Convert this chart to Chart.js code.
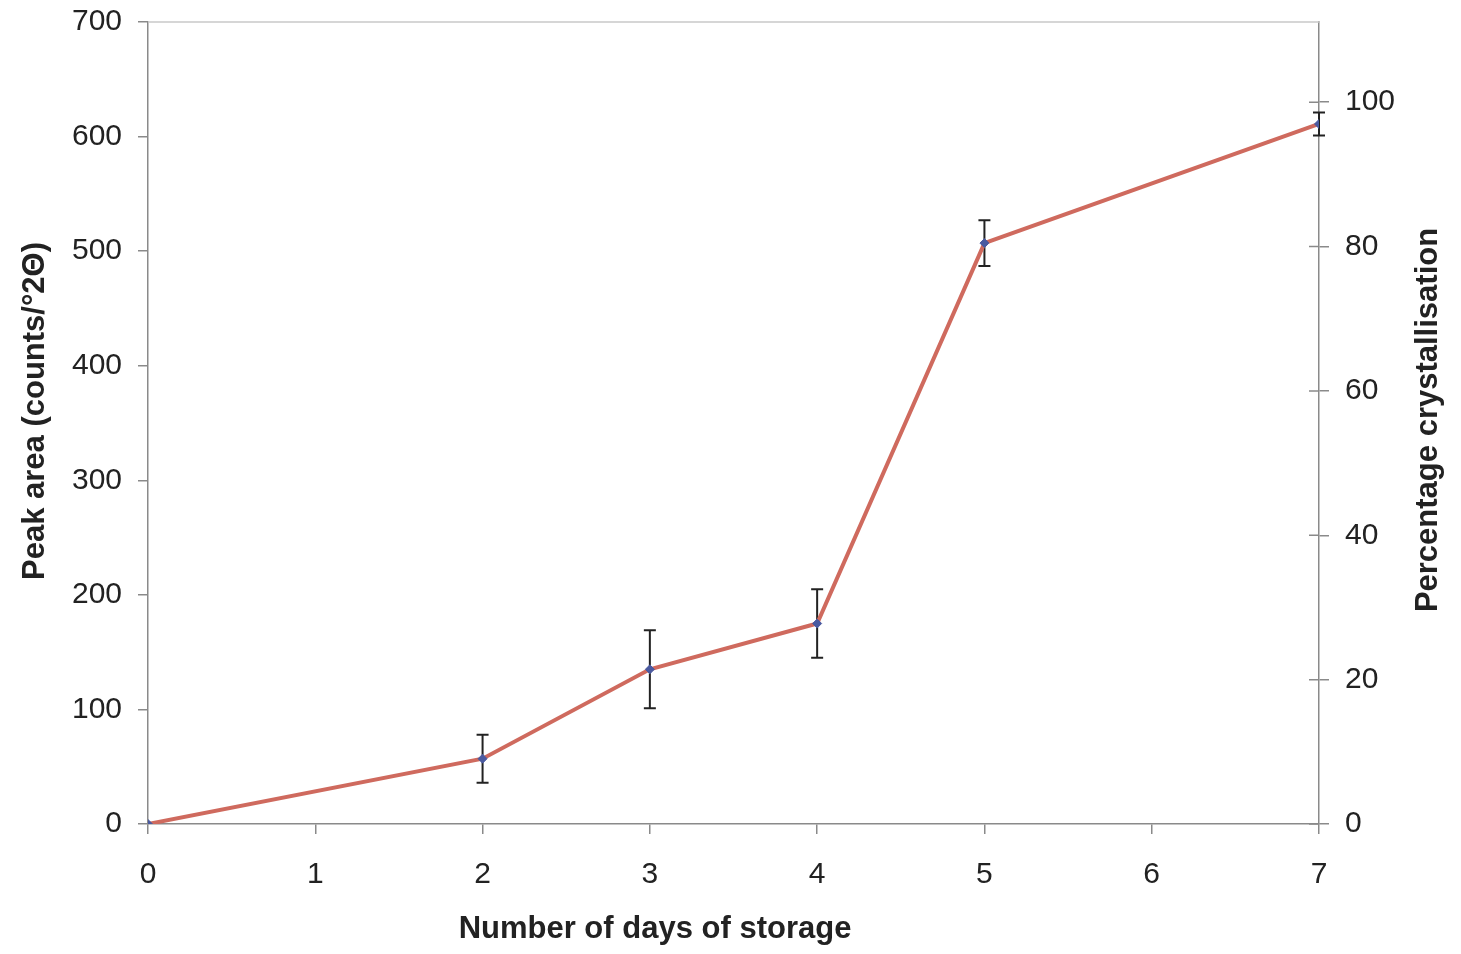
<!DOCTYPE html>
<html>
<head>
<meta charset="utf-8">
<script src="https://cdn.jsdelivr.net/npm/chart.js@4.4.1/dist/chart.umd.min.js"></script>
<style>
html,body{margin:0;padding:0;background:#fff;}
#wrap{width:1461px;height:954px;}
</style>
</head>
<body>
<div id="wrap"><canvas id="c" width="1461" height="954"></canvas></div>
<script>
// ---- data ----
const days = [0, 2, 3, 4, 5, 7];
const peakArea = [0, 57, 135, 175, 507, 611];
const peakError = [0, 21, 34, 30, 20, 10];
const xTicks = [0, 1, 2, 3, 4, 5, 6, 7];
const leftTicks = [0, 100, 200, 300, 400, 500, 600, 700];
const rightTicks = [0, 20, 40, 60, 80, 100];
const xTitle = 'Number of days of storage';
const leftTitle = 'Peak area (counts/°2Θ)';
const rightTitle = 'Percentage crystallisation';
const fullScaleArea = 630; // peak area corresponding to 100 %

const FONT = '"Liberation Sans", Arial, sans-serif';
const AXIS = '#8a8a8a';

const errorBars = {
  id: 'errorBars',
  beforeDatasetsDraw(chart) {
    const ctx = chart.ctx, xs = chart.scales.x, ys = chart.scales.y;
    ctx.save();
    ctx.strokeStyle = '#222';
    ctx.lineWidth = 2;
    days.forEach((d, i) => {
      const e = peakError[i];
      if (!e) return;
      const x = xs.getPixelForValue(d);
      const y1 = ys.getPixelForValue(peakArea[i] + e);
      const y2 = ys.getPixelForValue(peakArea[i] - e);
      ctx.beginPath();
      ctx.moveTo(x, y1); ctx.lineTo(x, y2);
      ctx.moveTo(x - 6, y1); ctx.lineTo(x + 6, y1);
      ctx.moveTo(x - 6, y2); ctx.lineTo(x + 6, y2);
      ctx.stroke();
    });
    ctx.restore();
  }
};

function drawText(ctx, text, x, y, rot) {
  ctx.save();
  ctx.translate(x, y);
  if (rot) ctx.rotate(rot);
  ctx.fillText(text, 0, 0);
  ctx.restore();
}

const frame = {
  id: 'frame',
  afterDraw(chart) {
    const ctx = chart.ctx, a = chart.chartArea, y2 = chart.scales.y2;
    ctx.save();
    ctx.strokeStyle = '#c8c8c8';
    ctx.lineWidth = 1.5;
    ctx.beginPath();
    ctx.moveTo(a.left, a.top); ctx.lineTo(a.right, a.top);
    ctx.stroke();
    // right axis crossing ticks
    ctx.strokeStyle = AXIS;
    ctx.beginPath();
    rightTicks.forEach(v => {
      const y = y2.getPixelForValue(v);
      ctx.moveTo(a.right - 10, y); ctx.lineTo(a.right, y);
    });
    ctx.stroke();
    // axis titles
    ctx.fillStyle = '#222';
    ctx.font = 'bold 31px ' + FONT;
    ctx.textAlign = 'center';
    ctx.textBaseline = 'middle';
    drawText(ctx, xTitle, 655, 929, 0);
    drawText(ctx, leftTitle, 35, 411, -Math.PI / 2);
    drawText(ctx, rightTitle, 1428, 420, -Math.PI / 2);
    ctx.restore();
  }
};

function fitV(w) {
  return function (s) { s.width = w; s.paddingTop = 0; s.paddingBottom = 0; };
}

new Chart(document.getElementById('c'), {
  type: 'line',
  data: {
    datasets: [{
      data: days.map((d, i) => ({x: d, y: peakArea[i]})),
      borderColor: '#cf6a5e',
      borderWidth: 4,
      pointRadius: 4.5,
      pointStyle: 'rectRot',
      pointBackgroundColor: '#4a5aa0',
      pointBorderColor: '#4a5aa0',
      pointBorderWidth: 1,
      tension: 0,
      yAxisID: 'y'
    }]
  },
  options: {
    responsive: false,
    animation: false,
    layout: {padding: {top: 22, left: 0, right: 0, bottom: 0}},
    plugins: {legend: {display: false}, tooltip: {enabled: false}},
    scales: {
      x: {
        type: 'linear', min: 0, max: 7,
        afterBuildTicks(s) { s.ticks = xTicks.map(v => ({value: v})); },
        afterFit(s) { s.height = 130; s.paddingLeft = 0; s.paddingRight = 0; },
        grid: {drawOnChartArea: false, drawTicks: true, tickLength: 10, color: AXIS, lineWidth: 1.5},
        border: {display: true, color: AXIS, width: 1.5},
        ticks: {font: {family: FONT, size: 30}, color: '#222', padding: 23, maxRotation: 0},
        title: {display: false}
      },
      y: {
        position: 'left', min: 0, max: 700,
        afterBuildTicks(s) { s.ticks = leftTicks.map(v => ({value: v})); },
        afterFit: fitV(148),
        grid: {drawOnChartArea: false, drawTicks: true, tickLength: 10, color: AXIS, lineWidth: 1.5},
        border: {display: true, color: AXIS, width: 1.5},
        ticks: {font: {family: FONT, size: 30}, color: '#222', padding: 16},
        title: {display: false}
      },
      y2: {
        position: 'right', min: 0, max: 700 / fullScaleArea * 100,
        afterBuildTicks(s) { s.ticks = rightTicks.map(v => ({value: v})); },
        afterFit: fitV(142),
        grid: {drawOnChartArea: false, drawTicks: true, tickLength: 10, color: AXIS, lineWidth: 1.5},
        border: {display: true, color: AXIS, width: 1.5},
        ticks: {font: {family: FONT, size: 30}, color: '#222', padding: 16},
        title: {display: false}
      }
    }
  },
  plugins: [errorBars, frame]
});
</script>
</body>
</html>
